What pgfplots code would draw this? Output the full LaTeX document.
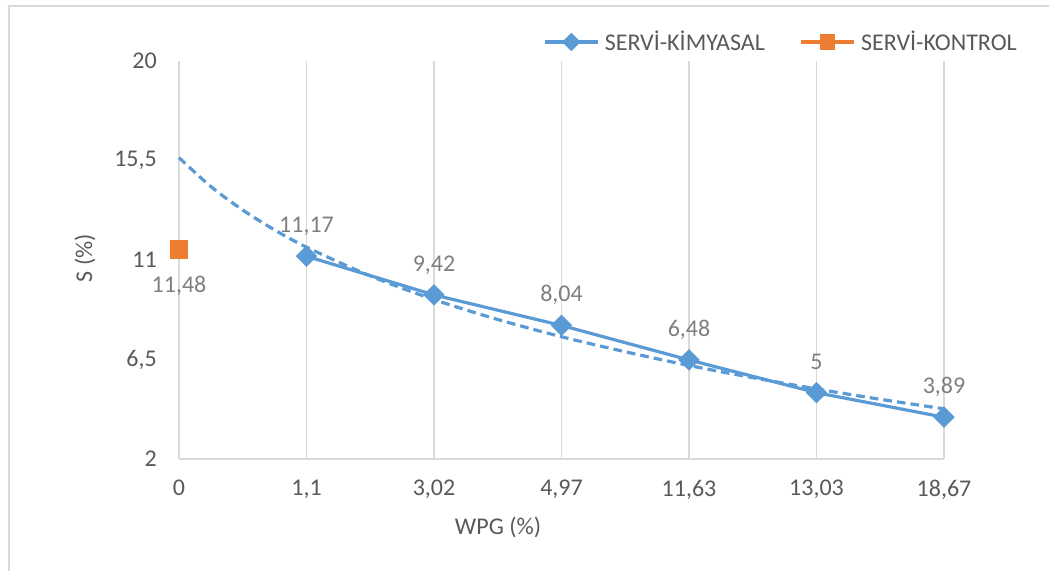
\documentclass[border=0pt]{standalone}
\usepackage{fontspec}
\setmainfont{Carlito}
\usepackage{pgfplots}
\pgfplotsset{compat=1.18}

\definecolor{serblue}{HTML}{5B9BD5}
\definecolor{serorange}{HTML}{ED7D31}
\definecolor{gridc}{HTML}{D9D9D9}
\definecolor{txtc}{HTML}{595959}
\definecolor{lblc}{HTML}{7F7F7F}

\begin{document}
\begin{tikzpicture}
\useasboundingbox (-134.25pt,-84pt) rectangle (652.5pt,344.25pt);
% chart frame
\draw[gridc, line width=1.6pt] (-127.5pt,-84pt) -- (-127.5pt,339.75pt);
\draw[gridc, line width=0.9pt] (-128.3pt,339.75pt) -- (652.5pt,339.75pt);

\begin{axis}[
  scale only axis,
  width=573.75pt, height=298.5pt,
  xmin=0, xmax=6, ymin=2, ymax=20,
  clip=false,
  axis x line*=bottom, axis y line*=left,
  axis line style={draw=gridc, line width=1.1pt, -},
  major tick length=0pt,
  xtick={0,1,2,3,4,5,6},
  xticklabels={0,{1,1},{3,02},{4,97},{11,63},{13,03},{18,67}},
  ytick={2,6.5,11,15.5,20},
  yticklabels={2,{6,5},11,{15,5},20},
  xmajorgrids=true,
  grid style={draw=gridc, line width=1.1pt},
  font=\fontsize{18pt}{21pt}\selectfont,
  tick label style={text=txtc, font=\fontsize{18pt}{21pt}\selectfont, inner sep=0pt},
  xticklabel style={anchor=north, yshift=-15.5pt},
  yticklabel style={anchor=east, xshift=-16.5pt},
  xlabel={WPG (\%)},
  ylabel={S (\%)},
  xlabel style={at={(axis description cs:0.417,-0.171)}, anchor=center, text=txtc, inner sep=0pt},
  ylabel style={at={(axis description cs:-0.123,0.505)}, anchor=center, text=txtc, inner sep=0pt},
  legend columns=2,
  legend style={at={(axis description cs:0.4758,1.0477)}, anchor=west,
    draw=none, fill=none, inner sep=0pt, text=txtc,
    font=\fontsize{18pt}{21pt}\selectfont,
    nodes={inner sep=0pt, text=txtc},
    /tikz/every odd column/.append style={column sep=4pt},
    /tikz/every even column/.append style={column sep=26pt}},
  legend image code/.code={%
    \draw[mark repeat=2, mark phase=2, every mark/.append style={scale=0.82}]
      plot coordinates {(0pt,0pt) (19.875pt,0pt) (39.75pt,0pt)};},
  nodes near coords,
  point meta=explicit symbolic,
  every node near coord/.append style={text=lblc, font=\fontsize{18pt}{21pt}\selectfont, inner sep=0pt, anchor=base},
]
% SERVİ-KİMYASAL
\addplot[serblue, line width=2.4pt, mark=square*, mark size=4.5pt,
  mark options={rotate=45, solid, fill=serblue},
  every node near coord/.append style={yshift=17.7pt}]
  coordinates {(1,11.17) [11,17] (2,9.42) [9,42] (3,8.04) [8,04]
               (4,6.48) [6,48] (5,5) [5] (6,3.89) [3,89]};
\addlegendentry{SERVİ-KİMYASAL}
% SERVİ-KONTROL
\addplot[serorange, line width=2.4pt, mark=square*, mark size=6.6pt,
  mark options={fill=serorange, draw=serorange, line width=0pt},
  every node near coord/.append style={yshift=-32.6pt}]
  coordinates {(0,11.48) [11,48]};
\addlegendentry{SERVİ-KONTROL}
% logarithmic trend of SERVİ-KİMYASAL
\addplot[serblue, line width=2.4pt, dash pattern=on 6.5pt off 3.8pt,
  smooth, no marks, forget plot, nodes near coords={}]
  coordinates {(0,15.63) (0.25,14.32) (0.5,13.26) (0.75,12.36) (1,11.58)
               (1.5,10.28) (2,9.21) (2.5,8.31) (3,7.53) (3.5,6.85)
               (4,6.23) (4.5,5.68) (5,5.17) (5.5,4.70) (6,4.27)};
\end{axis}
\end{tikzpicture}
\end{document}
